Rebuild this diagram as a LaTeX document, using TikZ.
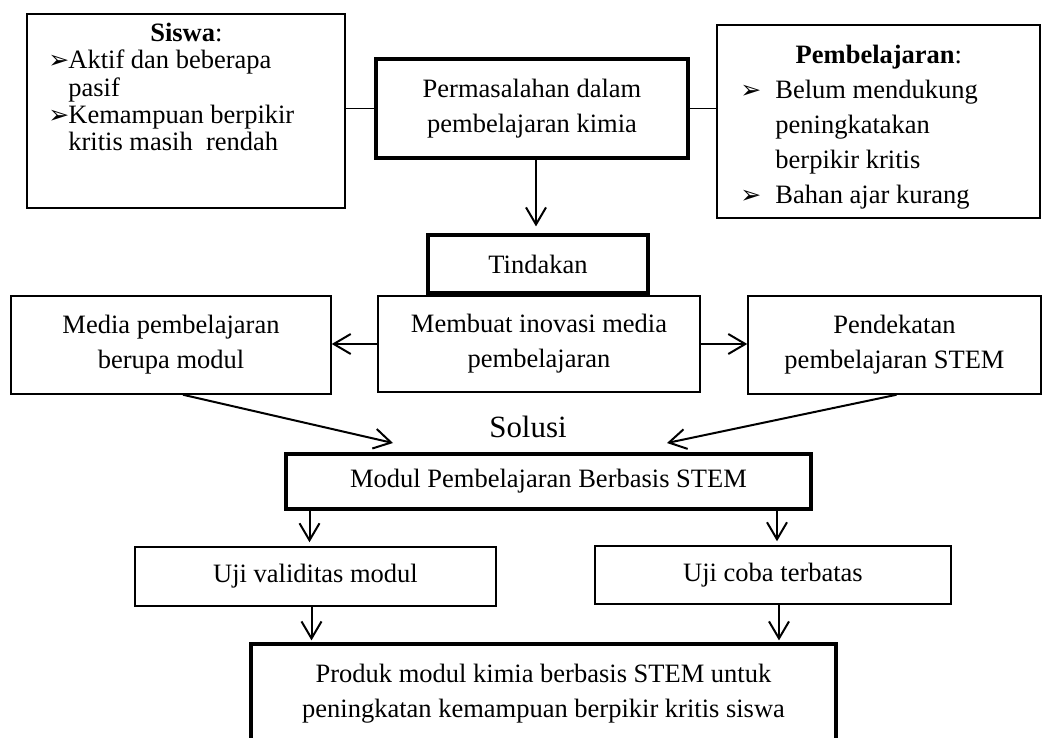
\documentclass[tikz,border=0pt]{standalone}
\usepackage{fontspec}
\setmainfont{Liberation Serif}
\newfontfamily\dejavu{DejaVu Sans}
\usetikzlibrary{arrows.meta}
\newcommand{\bul}{{\dejavu\fontsize{12.5}{12.5}\selectfont ➢}}
\begin{document}
\begin{tikzpicture}[x=0.5pt,y=-0.5pt,
  box/.style={draw, line width=0.75pt, inner sep=0pt, align=center, font=\fontsize{13.25}{17.5}\selectfont},
  tbox/.style={box, line width=1.6pt},
  txt/.style={inner sep=0pt, anchor=north west, align=left},
  arr/.style={-{Straight Barb[length=8.5pt,width=10pt,line width=1pt]}, line width=1pt},
  link/.style={line width=0.75pt}]
\useasboundingbox (0,0) rectangle (1044,738);
\clip (0,0) rectangle (1044,738);

% top row
\node[box, minimum width=159pt, minimum height=97pt] (siswa) at (186,111) {};
\node[txt, font=\fontsize{13.25}{13.65}\selectfont] (siswaT) at (48,21)
  {\makebox[138pt][c]{\rule{0pt}{10pt}\textbf{Siswa}:}\\
   \makebox[10pt][l]{\bul}Aktif dan beberapa\\
   \hspace*{10pt}pasif\\
   \makebox[10pt][l]{\bul}Kemampuan berpikir\\
   \hspace*{10pt}kritis masih\ \ rendah};

\node[tbox, minimum width=156pt, minimum height=49.5pt] (perm) at (532,108.5)
  {Permasalahan dalam\\pembelajaran kimia};

\node[box, minimum width=161.5pt, minimum height=96.5pt] (pemb) at (878.5,121.5) {};
\node[txt, font=\fontsize{13.25}{17.5}\selectfont] (pembT) at (740,43)
  {\makebox[138.5pt][c]{\rule{0pt}{10pt}\textbf{Pembelajaran}:}\\
   \makebox[17.5pt][l]{\bul}Belum mendukung\\
   \hspace*{17.5pt}peningkatakan\\
   \hspace*{17.5pt}berpikir kritis\\
   \makebox[17.5pt][l]{\bul}Bahan ajar kurang};

\node[tbox, minimum width=110pt, minimum height=29pt] (tind) at (538,264) {Tindakan};

% middle row
\node[box, minimum width=160pt, minimum height=49pt] (media) at (171,345)
  {Media pembelajaran\\berupa modul};
\node[box, minimum width=161pt, minimum height=48pt] (mem) at (539,344)
  {Membuat inovasi media\\pembelajaran};
\node[box, minimum width=146.5pt, minimum height=49pt] (pend) at (894.5,345)
  {Pendekatan\\pembelajaran STEM};

\node[inner sep=0pt, font=\fontsize{15.45}{18}\selectfont] (solusi) at (528,427) {Solusi};

\node[tbox, minimum width=262.5pt, minimum height=27.5pt] (modul) at (548.5,481.5)
  {Modul Pembelajaran Berbasis STEM};

\node[box, minimum width=180.5pt, minimum height=29.5pt] (uv) at (315.5,576.5) {Uji validitas modul};
\node[box, minimum width=178pt, minimum height=29pt] (uc) at (773,575) {Uji coba terbatas};

\node[tbox, minimum width=292.5pt, minimum height=50pt] (prod) at (543.5,694)
  {Produk modul kimia berbasis STEM untuk\\peningkatan kemampuan berpikir kritis siswa};

% connectors
\draw[link] (perm.west) -- (perm.west -| siswa.east);
\draw[link] (perm.east) -- (perm.east -| pemb.west);

\coordinate (p1) at ([xshift=2pt]perm.south);
\draw[arr, shorten >=3.5pt] (p1) -- (p1 |- tind.north);

\draw[arr] (mem.west) -- (mem.west -| media.east);
\draw[arr] (mem.east) -- (mem.east -| pend.west);

\coordinate (sl) at (393,443);
\coordinate (sr) at (667,443);
\draw[arr] ([xshift=6pt]media.south) -- (sl);
\draw[arr] ([xshift=1pt]pend.south) -- (sr);

\coordinate (a1) at ([xshift=-3pt]uv.north);
\coordinate (a2) at ([xshift=2pt]uc.north);
\draw[arr, shorten >=2pt] (a1 |- modul.south) -- (a1);
\draw[arr, shorten >=2pt] (a2 |- modul.south) -- (a2);

\coordinate (b1) at ([xshift=-2pt]uv.south);
\coordinate (b2) at ([xshift=3pt]uc.south);
\draw[arr, shorten >=1pt] (b1) -- (b1 |- prod.north);
\draw[arr, shorten >=1pt] (b2) -- (b2 |- prod.north);
\end{tikzpicture}
\end{document}
